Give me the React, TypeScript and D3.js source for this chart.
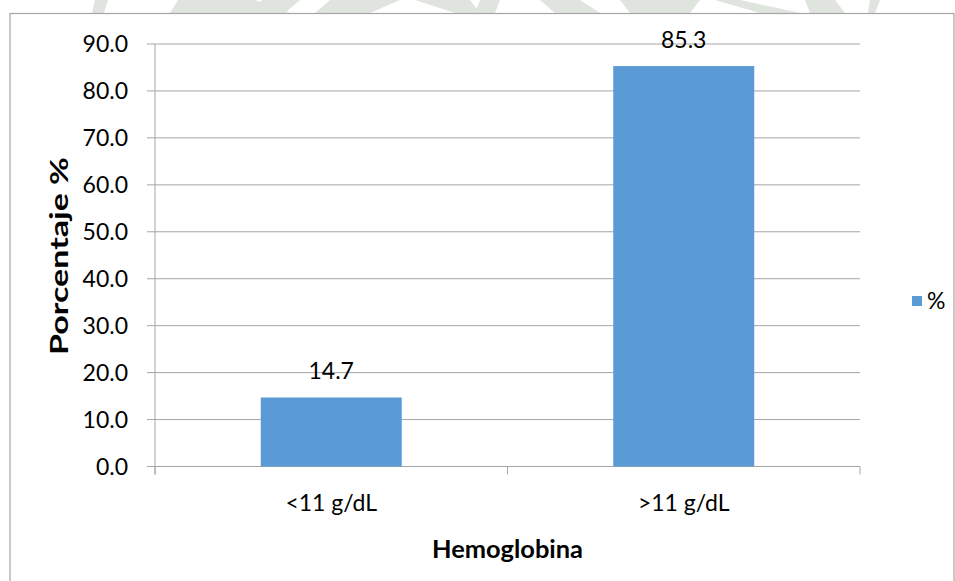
import React from "react";
import * as d3 from "d3";

const categories = ["<11 g/dL", ">11 g/dL"];
const values = [14.7, 85.3];
const yTicks = [0, 10, 20, 30, 40, 50, 60, 70, 80, 90];
const seriesName = "%";
const xTitle = "Hemoglobina";
const yTitle = "Porcentaje %";

const W = 955;
const H = 581;
const plotL = 155;
const plotR = 860;
const plotT = 44;
const plotB = 466.5;
const font = "Lato, 'Open Sans', sans-serif";
const barColor = "#5B9BD5";
const gridColor = "#a6a6a6";

export default function App() {
  const x = d3.scaleBand<string>().domain(categories).range([plotL, plotR]).padding(0);
  const y = d3.scaleLinear().domain([0, 90]).range([plotB, plotT]);
  const bw = x.bandwidth() * 0.4;

  return (
    <svg
      width={W}
      height={H}
      style={{ position: "absolute", left: 0, top: 0, background: "#fff" }}
    >
      {/* faint watermark fragments above frame */}
      <g fill="#dde2db" opacity={0.9}>
        <polygon points="95,0 108,0 104,13 92,13" />
        <polygon points="178,0 255,0 290,13 170,13" />
        <polygon points="262,0 300,0 285,13 250,13" />
        <polygon points="330,0 400,0 370,13 315,13" />
        <polygon points="415,0 470,0 480,13 455,13" />
        <polygon points="480,0 500,0 495,13 475,13" />
        <polygon points="540,0 580,0 600,13 555,13" />
        <polygon points="620,0 700,0 690,13 630,13" />
        <polygon points="715,0 740,0 800,13 760,13" />
        <polygon points="805,0 835,0 845,13 810,13" />
        <polygon points="870,0 880,0 875,13 868,13" />
      </g>
      {/* chart frame */}
      <rect x={10} y={13.5} width={944} height={H} fill="#fff" stroke={gridColor} strokeWidth={1.2} />

      {/* gridlines */}
      {yTicks.map((t) => (
        <line
          key={"g" + t}
          x1={plotL - 8}
          x2={plotR}
          y1={y(t)}
          y2={y(t)}
          stroke={gridColor}
          strokeWidth={1}
        />
      ))}
      {/* y axis */}
      <line x1={plotL} x2={plotL} y1={plotT} y2={plotB + 8} stroke={gridColor} strokeWidth={1} />
      {/* x axis category ticks */}
      {[plotL, (plotL + plotR) / 2, plotR].map((v, i) => (
        <line key={"xt" + i} x1={v} x2={v} y1={plotB} y2={plotB + 8} stroke={gridColor} strokeWidth={1} />
      ))}

      {/* bars */}
      {categories.map((c, i) => {
        const cx = (x(c) as number) + x.bandwidth() / 2;
        return (
          <g key={c}>
            <rect x={cx - bw / 2} y={y(values[i])} width={bw} height={y(0) - y(values[i])} fill={barColor} />
            <text
              x={cx}
              y={y(values[i]) - 18}
              textAnchor="middle"
              fontFamily={font}
              fontSize={23}
              fill="#000"
            >
              {values[i].toFixed(1)}
            </text>
            <text x={cx} y={511} textAnchor="middle" fontFamily={font} fontSize={23} fill="#000">
              {c}
            </text>
          </g>
        );
      })}

      {/* y tick labels */}
      {yTicks.map((t) => (
        <text
          key={"yl" + t}
          x={plotL - 27}
          y={y(t)}
          dy="0.36em"
          textAnchor="end"
          fontFamily={font}
          fontSize={23}
          fill="#000"
        >
          {t.toFixed(1)}
        </text>
      ))}

      {/* axis titles */}
      <text
        x={(plotL + plotR) / 2}
        y={558}
        textAnchor="middle"
        fontFamily={font}
        fontWeight="bold"
        fontSize={24}
        fill="#000"
        textLength={151}
        lengthAdjust="spacingAndGlyphs"
      >
        {xTitle}
      </text>
      <text
        transform={`translate(68,${256}) rotate(-90)`}
        textAnchor="middle"
        fontFamily={font}
        fontWeight="bold"
        fontSize={24}
        fill="#000"
        textLength={198}
        lengthAdjust="spacingAndGlyphs"
      >
        {yTitle}
      </text>

      {/* legend */}
      <rect x={912} y={296} width={10} height={10} fill={barColor} />
      <text x={927} y={309} fontFamily={font} fontSize={23} fill="#000">
        {seriesName}
      </text>
    </svg>
  );
}
